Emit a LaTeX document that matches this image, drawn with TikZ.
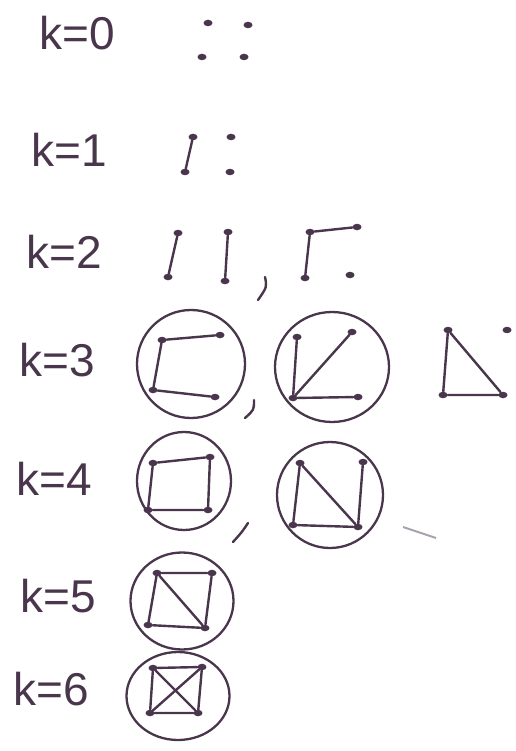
\documentclass[tikz,border=0pt]{standalone}
\usepackage{fontspec}
\setmainfont{Liberation Sans}
\definecolor{ink}{RGB}{74,54,76}
\definecolor{smudge}{RGB}{170,160,175}
\usepackage{tikz}
\usetikzlibrary{shapes.geometric}

\begin{document}
\begin{tikzpicture}[x=1pt,y=-1pt,
    dot/.style={ellipse,fill=ink,inner sep=0pt,minimum width=9pt,minimum height=6.5pt},
    edge/.style={ink,line width=2.4pt,line cap=round},
    ring/.style={ellipse,draw=ink,line width=2.3pt,inner sep=0pt},
    lbl/.style={ink,font=\fontsize{46}{46}\selectfont,inner sep=0pt}]
        \useasboundingbox (0,0) rectangle (515,751);
        % row labels
        \node[lbl] (l0) at (77,33) {k=0};
        \node[lbl] (l1) at (69,150) {k=1};
        \node[lbl] (l2) at (64,252) {k=2};
        \node[lbl] (l3) at (57,360) {k=3};
        \node[lbl] (l4) at (54,479) {k=4};
        \node[lbl] (l5) at (58,596) {k=5};
        \node[lbl] (l6) at (51,689) {k=6};

        % k=0
        \node[dot] (a1) at (208,23) {};
        \node[dot] (a2) at (248,25) {};
        \node[dot] (a3) at (202,57) {};
        \node[dot] (a4) at (244,57) {};

        % k=1
        \node[dot] (b1) at (193,137) {};
        \node[dot] (b2) at (231,137) {};
        \node[dot] (b3) at (185,172) {};
        \node[dot] (b4) at (230,172) {};
        \draw[edge] (b1) -- (b3);

        % k=2
        \node[dot] (c1) at (178,233) {};
        \node[dot] (c2) at (228,232) {};
        \node[dot] (c3) at (168,277) {};
        \node[dot] (c4) at (225,281) {};
        \draw[edge] (c1) -- (c3);
        \draw[edge] (c2) -- (c4);
        \draw[edge] (265,277) .. controls (267,287) .. (258,300);
        \node[dot] (d1) at (310,232) {};
        \node[dot] (d2) at (357,227) {};
        \node[dot] (d3) at (305,278) {};
        \node[dot] (d4) at (350,275) {};
        \draw[edge] (d2) -- (d1) -- (d3);

        % k=3
        \node[ring,minimum width=108pt,minimum height=108pt] (r1) at (191,364) {};
        \node[dot] (e1) at (162,340) {};
        \node[dot] (e2) at (220,335) {};
        \node[dot] (e3) at (153,390) {};
        \node[dot] (e4) at (215,397) {};
        \draw[edge] (e2) -- (e1) -- (e3) -- (e4);
        \draw[edge] (254,400) .. controls (254,410) .. (245,418);
        \node[ring,minimum width=114pt,minimum height=110pt] (r2) at (332,367) {};
        \node[dot] (f1) at (297,337) {};
        \node[dot] (f2) at (352,332) {};
        \node[dot] (f3) at (293,398) {};
        \node[dot] (f4) at (358,397) {};
        \draw[edge] (f1) -- (f3) -- (f4);
        \draw[edge] (f3) -- (f2);
        \node[dot] (g1) at (448,330) {};
        \node[dot] (g2) at (507,330) {};
        \node[dot] (g3) at (443,395) {};
        \node[dot] (g4) at (503,395) {};
        \draw[edge] (g1) -- (g3) -- (g4) -- (g1);

        % k=4
        \node[ring,minimum width=94pt,minimum height=98pt] (r3) at (184,481) {};
        \node[dot] (h1) at (153,463) {};
        \node[dot] (h2) at (210,457) {};
        \node[dot] (h3) at (148,510) {};
        \node[dot] (h4) at (208,510) {};
        \draw[edge] (h1) -- (h2) -- (h4) -- (h3) -- (h1);
        \draw[edge] (248,523) .. controls (242,532) .. (233,542);
        \node[ring,minimum width=106pt,minimum height=106pt] (r4) at (330,495) {};
        \node[dot] (i1) at (300,463) {};
        \node[dot] (i2) at (363,462) {};
        \node[dot] (i3) at (293,525) {};
        \node[dot] (i4) at (358,527) {};
        \draw[edge] (i1) -- (i3) -- (i4) -- (i1);
        \draw[edge] (i2) -- (i4);
        \draw[smudge,line width=2pt] (403,527) -- (436,538);

        % k=5
        \node[ring,minimum width=103pt,minimum height=97pt] (r5) at (182,601) {};
        \node[dot] (j1) at (157,573) {};
        \node[dot] (j2) at (212,573) {};
        \node[dot] (j3) at (148,625) {};
        \node[dot] (j4) at (205,628) {};
        \draw[edge] (j1) -- (j2) -- (j4) -- (j3) -- (j1) -- (j4);

        % k=6
        \node[ring,minimum width=103pt,minimum height=88pt] (r6) at (178,696) {};
        \node[dot] (m1) at (153,668) {};
        \node[dot] (m2) at (202,667) {};
        \node[dot] (m3) at (150,713) {};
        \node[dot] (m4) at (198,713) {};
        \draw[edge] (m1) -- (m2) -- (m4) -- (m3) -- (m1) -- (m4);
        \draw[edge] (m2) -- (m3);
      \end{tikzpicture}
\end{document}
